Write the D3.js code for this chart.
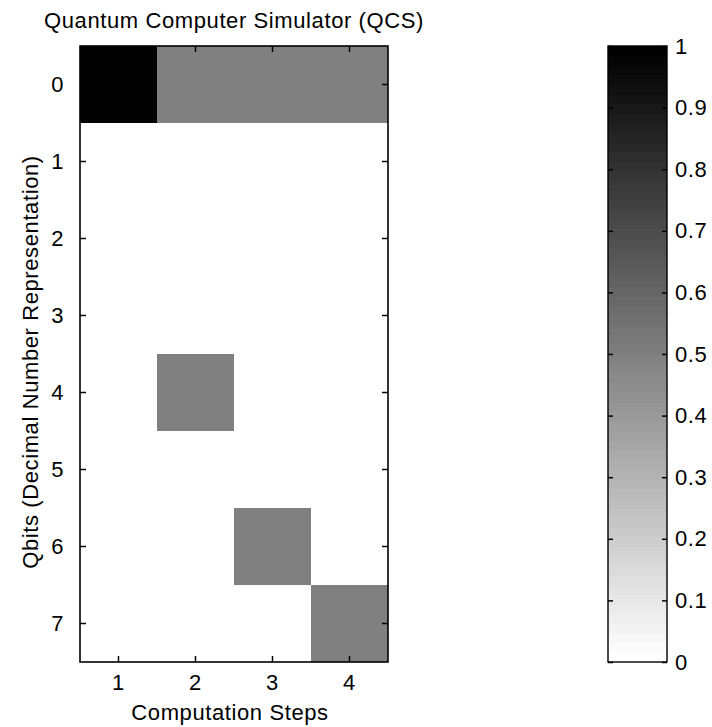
<!DOCTYPE html>
<html>
<head>
<meta charset="utf-8">
<script src="https://cdn.jsdelivr.net/npm/d3@7"></script>
<style>
  html, body { margin: 0; padding: 0; background: #fff; }
  svg text { font-family: "Liberation Sans", Arial, sans-serif; font-size: 22px; letter-spacing: 0.6px; fill: #000; }
</style>
</head>
<body>
<svg id="chart" width="712" height="727"></svg>
<script>
// ---- data ----
const steps = [1, 2, 3, 4];
const qbits = [0, 1, 2, 3, 4, 5, 6, 7];
const step1 = [1, 0, 0, 0, 0, 0, 0, 0];
const step2 = [0.5, 0, 0, 0, 0.5, 0, 0, 0];
const step3 = [0.5, 0, 0, 0, 0, 0, 0.5, 0];
const step4 = [0.5, 0, 0, 0, 0, 0, 0, 0.5];
const colorbarTicks = [0, 0.1, 0.2, 0.3, 0.4, 0.5, 0.6, 0.7, 0.8, 0.9, 1];
const colorbarLabels = ["0", "0.1", "0.2", "0.3", "0.4", "0.5", "0.6", "0.7", "0.8", "0.9", "1"];
const titleText = "Quantum Computer Simulator (QCS)";
const xLabel = "Computation Steps";
const yLabel = "Qbits (Decimal Number Representation)";

const columns = [step1, step2, step3, step4];
const cells = [];
steps.forEach((s, i) => qbits.forEach((q, j) => cells.push({ step: s, qbit: q, value: columns[i][j] })));

// ---- layout ----
const svg = d3.select("#chart");
const plot = { left: 80, right: 388, top: 46, bottom: 662 };
const cbar = { left: 608, right: 667, top: 46, bottom: 662 };
const tickLen = 6;

const x = d3.scaleBand().domain(steps).range([plot.left, plot.right]);
const y = d3.scaleBand().domain(qbits).range([plot.top, plot.bottom]);
const color = d3.scaleLinear().domain([0, 1]).range(["#ffffff", "#000000"]).interpolate(d3.interpolateRgb);

// cells
svg.append("g").selectAll("rect").data(cells).join("rect")
  .attr("x", d => x(d.step))
  .attr("y", d => y(d.qbit))
  .attr("width", x.bandwidth())
  .attr("height", y.bandwidth())
  .attr("fill", d => color(d.value))
  .attr("shape-rendering", "crispEdges");

// axes (inward ticks on all sides)
const axStyle = g => {
  g.select(".domain").remove();
  g.selectAll(".tick line").attr("stroke", "#000").attr("stroke-width", 1.5);
};
svg.append("g").attr("transform", `translate(0,${plot.bottom})`)
  .call(d3.axisBottom(x).tickSizeInner(-tickLen).tickSizeOuter(0).tickPadding(14))
  .call(axStyle)
  .call(g => g.selectAll(".tick text").attr("dy", null).attr("y", 28).style("font-size", "22px").style("font-family", "Liberation Sans, Arial, sans-serif"));
svg.append("g").attr("transform", `translate(0,${plot.top})`)
  .call(d3.axisTop(x).tickSizeInner(-tickLen).tickSizeOuter(0).tickFormat(""))
  .call(axStyle);
svg.append("g").attr("transform", `translate(${plot.left},0)`)
  .call(d3.axisLeft(y).tickSizeInner(-tickLen).tickSizeOuter(0).tickPadding(16))
  .call(axStyle)
  .call(g => g.selectAll(".tick text").style("font-size", "22px").style("font-family", "Liberation Sans, Arial, sans-serif"));
svg.append("g").attr("transform", `translate(${plot.right},0)`)
  .call(d3.axisRight(y).tickSizeInner(-tickLen).tickSizeOuter(0).tickFormat(""))
  .call(axStyle);

// plot box
svg.append("rect")
  .attr("x", plot.left).attr("y", plot.top)
  .attr("width", plot.right - plot.left).attr("height", plot.bottom - plot.top)
  .attr("fill", "none").attr("stroke", "#000").attr("stroke-width", 1.6);

// title and labels
svg.append("text").attr("x", (plot.left + plot.right) / 2).attr("y", 28)
  .attr("text-anchor", "middle").text(titleText);
svg.append("text").attr("x", 230).attr("y", 720)
  .attr("text-anchor", "middle").text(xLabel);
svg.append("text").attr("transform", `translate(38,362) rotate(-90)`)
  .attr("text-anchor", "middle").text(yLabel);

// ---- colorbar ----
const cy = d3.scaleLinear().domain([0, 1]).range([cbar.bottom, cbar.top]);
const levels = d3.range(64).map(i => i / 63);
const bandH = (cbar.bottom - cbar.top) / 64;
svg.append("g").selectAll("rect").data(levels).join("rect")
  .attr("x", cbar.left)
  .attr("y", (d, i) => cy((i + 1) / 64))
  .attr("width", cbar.right - cbar.left)
  .attr("height", bandH + 0.5)
  .attr("fill", d => color(d))
  .attr("shape-rendering", "crispEdges");

svg.append("g").attr("transform", `translate(${cbar.right},0)`)
  .call(d3.axisRight(cy).tickValues(colorbarTicks).tickSizeInner(-5).tickSizeOuter(0).tickPadding(8)
    .tickFormat((d, i) => colorbarLabels[i]))
  .call(axStyle)
  .call(g => g.selectAll(".tick text").style("font-size", "22px").style("font-family", "Liberation Sans, Arial, sans-serif"));
svg.append("g").attr("transform", `translate(${cbar.left},0)`)
  .call(d3.axisLeft(cy).tickValues(colorbarTicks).tickSizeInner(-5).tickSizeOuter(0).tickFormat(""))
  .call(axStyle);
svg.append("rect")
  .attr("x", cbar.left).attr("y", cbar.top)
  .attr("width", cbar.right - cbar.left).attr("height", cbar.bottom - cbar.top)
  .attr("fill", "none").attr("stroke", "#000").attr("stroke-width", 1.4);
</script>
</body>
</html>
